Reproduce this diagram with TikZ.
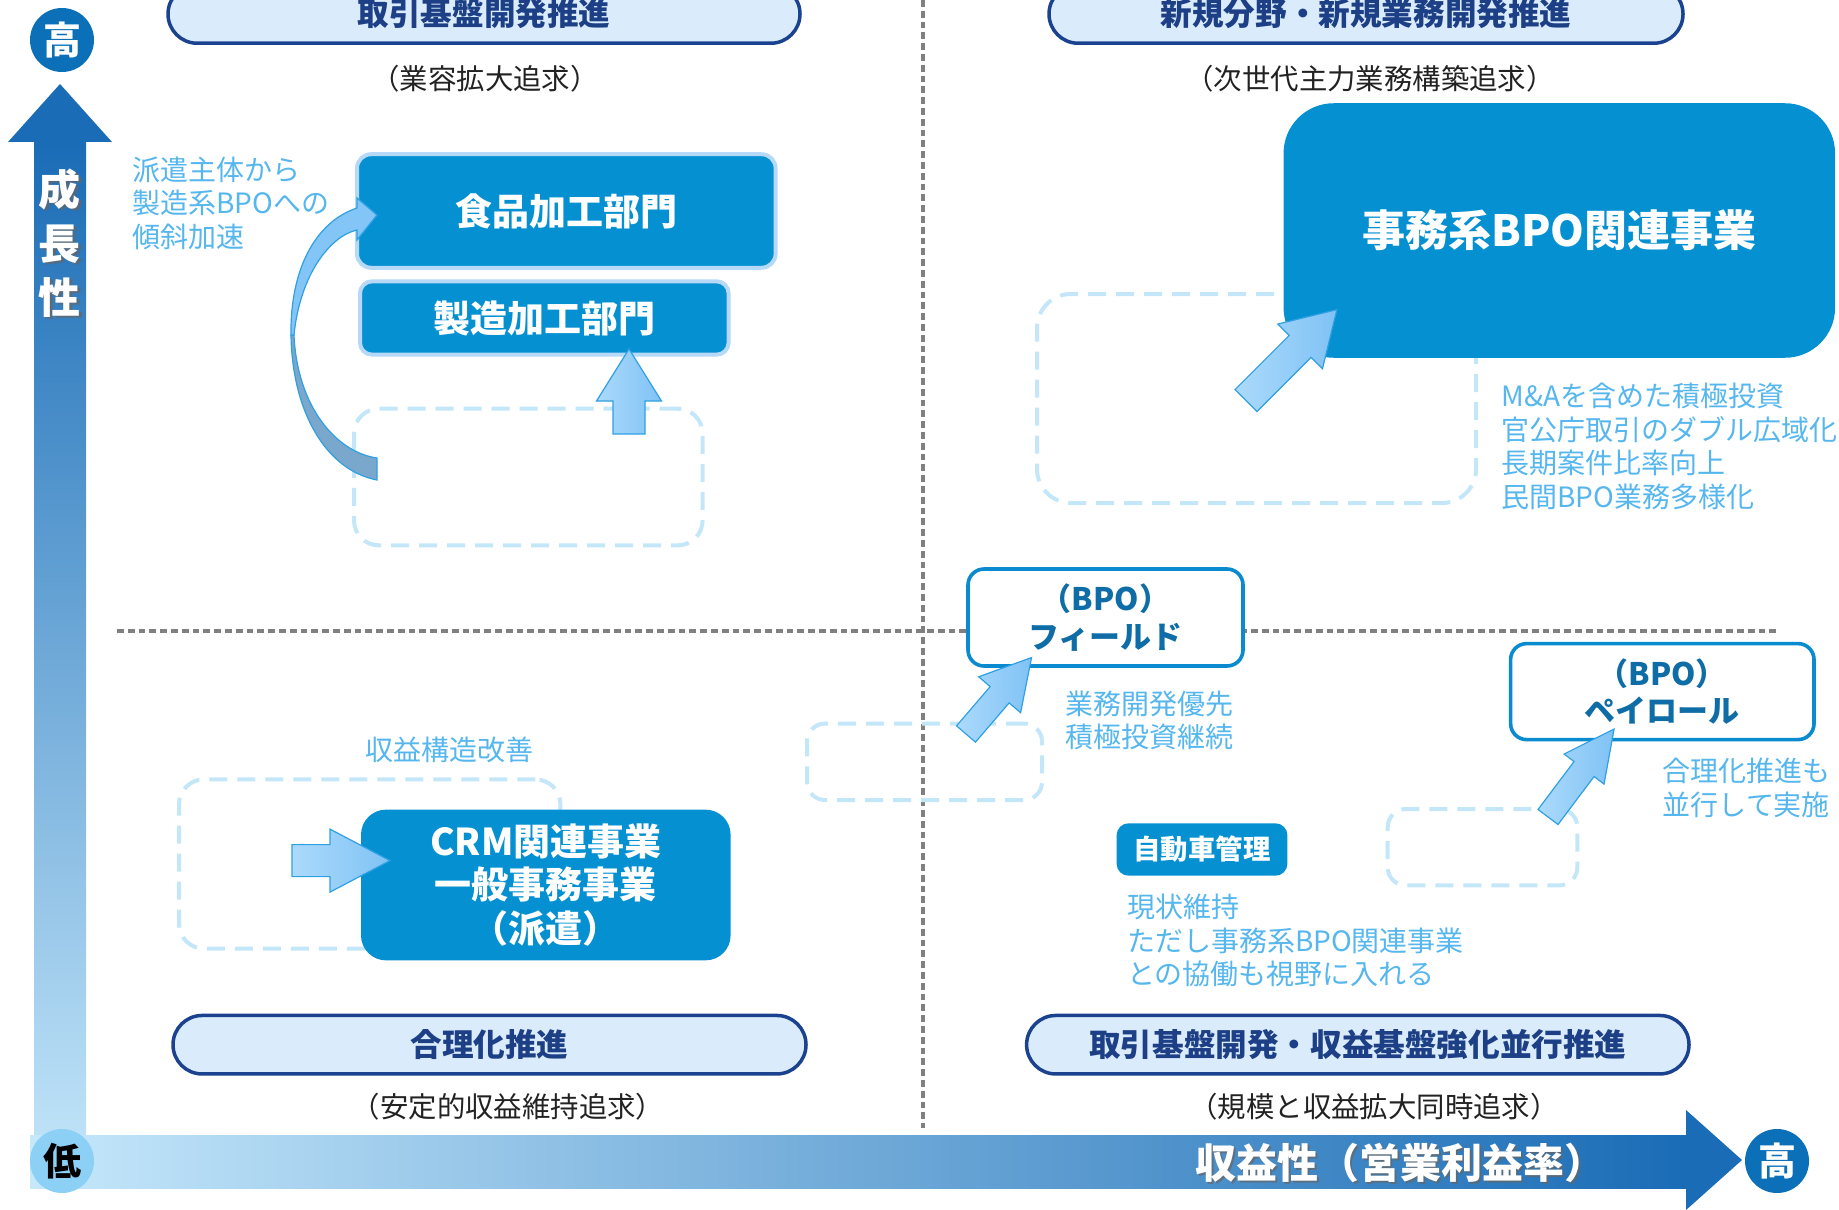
\documentclass[tikz,border=0pt]{standalone}
\usepackage{fontspec}
\setmainfont{Noto Sans CJK JP}
\usetikzlibrary{calc}
\definecolor{boxblue}{HTML}{0590D2}
\definecolor{boxedge}{HTML}{B5D9F7}
\definecolor{pillfill}{HTML}{DAEBFC}
\definecolor{pilledge}{HTML}{1A428F}
\definecolor{pilltext}{HTML}{1C3F86}
\definecolor{notecol}{HTML}{56B6EE}
\definecolor{dashcol}{HTML}{C4E6F9}
\definecolor{gridgray}{HTML}{808080}
\definecolor{axisdark}{HTML}{1A6CB6}
\definecolor{axismid}{HTML}{6AA2D5}
\definecolor{axislight}{HTML}{C6E8FB}
\definecolor{circdark}{HTML}{0B70B7}
\definecolor{circlight}{HTML}{8DD0F6}
\definecolor{bpoedge}{HTML}{0A8BD0}
\definecolor{bpotext}{HTML}{0E6CA6}
\definecolor{arrlight}{HTML}{ABDAFB}
\definecolor{arrdark}{HTML}{80C2F5}
\definecolor{arredge}{HTML}{2FA0E2}
\definecolor{subtext}{HTML}{222222}
\definecolor{curvetop}{HTML}{82C5F6}
\definecolor{curvebot}{HTML}{7AA7CC}
\newcommand\blockarrow[6]{%
  \begin{scope}[shift={(#1)},rotate=#2]
    \path[blockarr] (0,-#4) -- ({#3-#6},-#4) -- ({#3-#6},-#5) -- (#3,0) -- ({#3-#6},#5) -- ({#3-#6},#4) -- (0,#4) -- cycle;
  \end{scope}}
\begin{document}
\begin{tikzpicture}[x=0.5pt,y=-0.5pt,
  pill/.style={draw=pilledge,line width=1.75pt,fill=pillfill,rounded corners=14.6pt,minimum height=29.25pt,inner sep=0pt,text=pilltext,font=\bfseries\fontsize{15.8}{18}\selectfont},
  subtitle/.style={text=subtext,inner sep=0pt,font=\fontsize{14.2}{17}\selectfont},
  note/.style={text=notecol,inner sep=0pt,align=left,anchor=west,font=\fontsize{14}{16.75}\selectfont},
  bluebox/.style={fill=boxblue,text=white,inner sep=0pt,align=center,font=\bfseries\fontsize{18.5}{21.85}\selectfont},
  dashbox/.style={draw=dashcol,line width=2pt,dash pattern=on 9pt off 5pt,inner sep=0pt},
  bpobox/.style={draw=bpoedge,line width=1.8pt,fill=white,rounded corners=8pt,inner sep=0pt,text=bpotext,align=center,font=\bfseries\fontsize{15.5}{18.7}\selectfont},
  gridline/.style={draw=gridgray,line width=1.6pt,dash pattern=on 3.4pt off 2pt},
  blockarr/.style={left color=arrlight,right color=arrdark,draw=arredge,line width=0.6pt},
  axiscirc/.style={circle,minimum size=32pt,inner sep=0pt,font=\bfseries\fontsize{19}{19}\selectfont},
  axistext/.style={inner sep=0pt,align=center,font=\bfseries\fontsize{21}{27}\selectfont}
]
\useasboundingbox (0,0) rectangle (1839,1209);

% grid lines
\coordinate (vtop) at (923,0);
\coordinate (vbot) at (923,1128);
\coordinate (hleft) at (117,631);
\coordinate (hright) at (1778,631);
\draw[gridline] (vtop) -- (vbot);
\draw[gridline] (hleft) -- (hright);

% dashed boxes
\node[dashbox,rounded corners=12.5pt,minimum width=174.3pt,minimum height=68.4pt] (d1) at (528.3,477) {};
\node[dashbox,rounded corners=17pt,minimum width=219.5pt,minimum height=104.5pt] (d2) at (1256.5,398.5) {};
\node[dashbox,rounded corners=12.5pt,minimum width=190.7pt,minimum height=84.65pt] (d3) at (369.7,864) {};
\node[dashbox,rounded corners=9pt,minimum width=117.5pt,minimum height=38.25pt] (d4) at (924.5,761.8) {};
\node[dashbox,rounded corners=9pt,minimum width=94.8pt,minimum height=38.2pt] (d5) at (1482.5,847.2) {};

% pills
\node[pill,minimum width=316pt] (p1) at (484,14) {取引基盤開発推進};
\node[pill,minimum width=317pt] (p2) at (1366,14) {新規分野・新規業務開発推進};
\node[pill,minimum width=316.5pt] (p3) at (489.5,1044.7) {合理化推進};
\node[pill,minimum width=331.2pt] (p4) at (1357.8,1044.7) {取引基盤開発・収益基盤強化並行推進};

% subtitles
\node[subtitle] (s1) at (485,78.5) {（業容拡大追求）};
\node[subtitle] (s2) at (1370,78.5) {（次世代主力業務構築追求）};
\node[subtitle] (s3) at (508,1106.8) {（安定的収益維持追求）};
\node[subtitle] (s4) at (1374,1106.8) {（規模と収益拡大同時追求）};

% blue boxes
\node[bluebox,draw=boxedge,line width=2pt,rounded corners=7pt,minimum width=209.3pt,minimum height=56.75pt] (b1) at (566.3,211) {食品加工部門};
\node[bluebox,draw=boxedge,line width=2pt,rounded corners=6pt,minimum width=184.3pt,minimum height=36.65pt] (b2) at (544.3,318) {製造加工部門};
\node[bluebox,rounded corners=25pt,minimum width=275.75pt,minimum height=127.25pt,font=\fontsize{21.5}{26}\selectfont\bfseries] (b3) at (1559.3,230.5) {事務系BPO関連事業};
\node[bluebox,rounded corners=12.5pt,minimum width=184.8pt,minimum height=75.35pt] (b4) at (545.8,885) {CRM関連事業\\一般事務事業\\（派遣）};
\node[bluebox,rounded corners=6pt,minimum width=85.4pt,minimum height=26.2pt,font=\bfseries\fontsize{13.7}{16}\selectfont] (b5) at (1202,849.5) {自動車管理};

% BPO boxes
\node[bpobox,minimum width=137.5pt,minimum height=48.5pt] (f1) at (1105.5,617.5) {（BPO）\\フィールド};
\node[bpobox,minimum width=151.7pt,minimum height=48pt] (f2) at (1662.3,691.6) {（BPO）\\ペイロール};

% block arrows
\coordinate (a1) at (629,434);
\coordinate (a2) at (1246,400.5);
\coordinate (a3) at (292,860.6);
\coordinate (a4) at (966,734);
\coordinate (a5) at (1548,817);
\blockarrow{a1}{90}{85}{16}{32.5}{52}
\blockarrow{a2}{45}{128.5}{15.5}{31.6}{52}
\blockarrow{a3}{0}{98}{16}{31.5}{60}
\blockarrow{a4}{49.4}{100.7}{12.5}{27.6}{49}
\blockarrow{a5}{53.1}{110}{12.5}{25}{50}

% curved arrow: lower (back) part
\path[fill=curvebot,draw=arredge,line width=0.6pt]
  (291,335) .. controls (292,410) and (325,470) .. (377,480)
  -- (377,458) .. controls (335,452) and (297,405) .. (294,335) -- cycle;
% curved arrow: upper part with head
\path[fill=curvetop,draw=arredge,line width=0.6pt]
  (291,335) .. controls (290,270) and (315,222) .. (357,208)
  -- (357,198) -- (377,215) -- (357,240) -- (357,230)
  .. controls (330,236) and (300,275) .. (294,335) -- cycle;

% notes
\node[note] (n1) at (132,203) {派遣主体から\\製造系BPOへの\\傾斜加速};
\node[note] (n2) at (1501,446.2) {M\&Aを含めた積極投資\\官公庁取引のダブル広域化\\長期案件比率向上\\民間BPO業務多様化};
\node[note] (n3) at (1065.5,720.4) {業務開発優先\\積極投資継続};
\node[note] (n4) at (1662.4,787.9) {合理化推進も\\並行して実施};
\node[note] (n5) at (1126.6,940.8) {現状維持\\ただし事務系BPO関連事業\\との協働も視野に入れる};
\node[note,anchor=center] (n6) at (449,749.5) {収益構造改善};

% axes
\shade[top color=axisdark,middle color=axismid,bottom color=axislight] (34,142) rectangle (86,1188);
\fill[axisdark] (8,142) -- (60,84) -- (112,142) -- cycle;
\shade[left color=axislight,middle color=axismid!55!axislight,right color=axisdark] (30,1135) rectangle (1686,1188);
\fill[axisdark] (1686,1110) -- (1742,1160) -- (1686,1210) -- cycle;

\node[axiscirc,fill=circdark,text=white] (c1) at (62,40) {高};
\node[axiscirc,fill=circlight,text=black] (c2) at (62,1161) {低};
\node[axiscirc,fill=circdark,text=white] (c3) at (1777,1161) {高};

\node[axistext,text=black!60,opacity=0.7] at (62,245) {成\\長\\性};
\node[axistext,text=white] (yt) at (60,243) {成\\長\\性};
\node[axistext,text=black!60,opacity=0.7,font=\bfseries\fontsize{20.5}{24}\selectfont] at (1402,1165) {収益性（営業利益率）};
\node[axistext,text=white,font=\bfseries\fontsize{20.5}{24}\selectfont] (xt) at (1400,1163) {収益性（営業利益率）};
\end{tikzpicture}
\end{document}
